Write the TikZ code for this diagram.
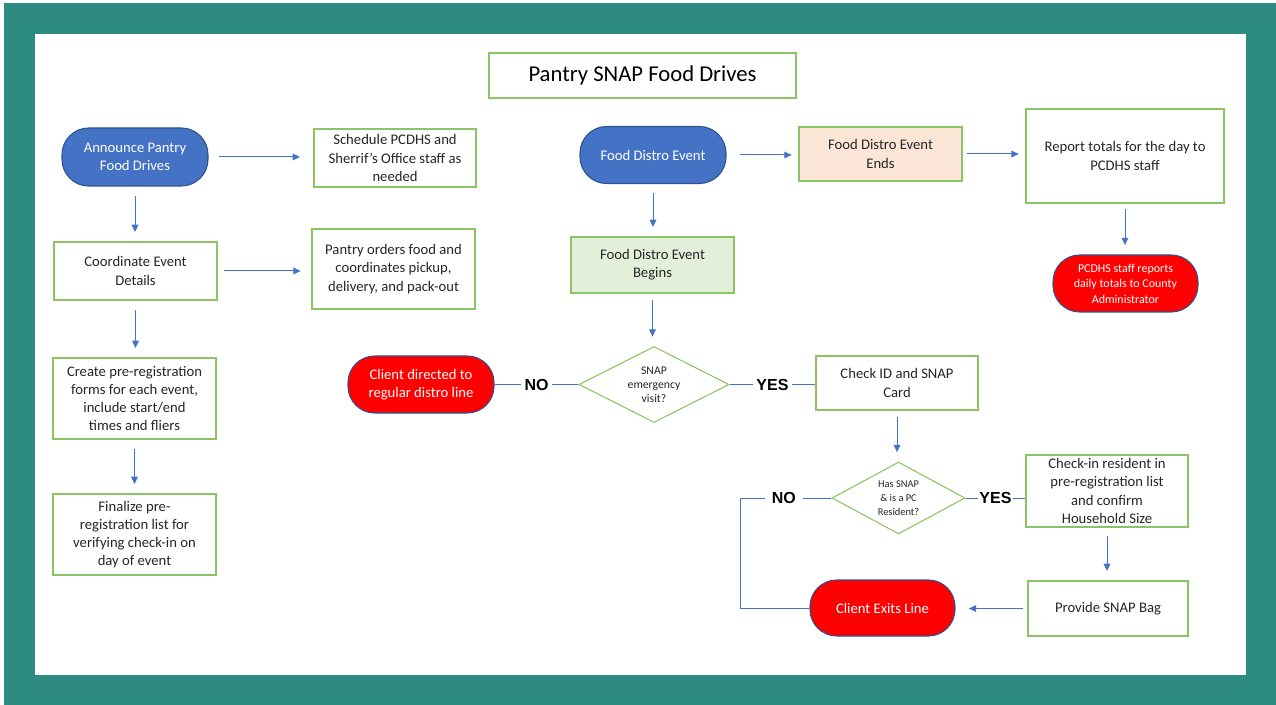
\documentclass[tikz,border=0pt]{standalone}
\usepackage{fontspec}
\setmainfont{Carlito}
\newfontfamily\labfont{Liberation Sans}
\usetikzlibrary{arrows.meta,shapes.geometric}
\definecolor{tealbg}{RGB}{46,139,128}
\definecolor{gbord}{RGB}{140,196,100}
\definecolor{tbord}{RGB}{47,82,143}
\definecolor{blue1}{RGB}{68,114,196}
\definecolor{red1}{RGB}{255,0,0}
\definecolor{arrc}{RGB}{68,114,196}
\definecolor{txt}{RGB}{38,38,38}
\definecolor{peach}{RGB}{251,229,214}
\definecolor{lgreen}{RGB}{226,239,218}
\begin{document}
\begin{tikzpicture}[x=0.75pt,y=-0.75pt,
  sz/.style 2 args={minimum width=#1*0.75pt,minimum height=#2*0.75pt},
  box/.style={draw=gbord,line width=1pt,fill=white,align=center,inner sep=1pt,
    font=\fontsize{11}{13.6}\selectfont,text=txt},
  term/.style={draw=tbord,line width=0.8pt,rounded corners=20pt,align=center,
    text=white,inner sep=1pt,font=\fontsize{11}{13.6}\selectfont},
  blueterm/.style={term,fill=blue1},
  redterm/.style={term,fill=red1},
  dec/.style={diamond,draw=gbord,line width=0.8pt,fill=white,inner sep=0pt},
  dectext/.style={align=center,text=txt,inner sep=0pt,font=\fontsize{8.8}{10.5}\selectfont},
  arr/.style={draw=arrc,line width=0.75pt,-{Triangle[length=5.5pt,width=5pt]},
    shorten <=7pt,shorten >=7pt},
  ln/.style={draw=arrc,line width=0.75pt},
  yn/.style={fill=white,inner sep=2.5pt,text=black,
    font=\labfont\bfseries\fontsize{12}{12}\selectfont}]
\useasboundingbox (0,0) rectangle (1276,705);
\fill[white] (0,0) rectangle (1276,705);
\fill[tealbg] (4,3) rectangle (1276,705);
\fill[white] (35,34) rectangle (1246,675);

% title
\node[box,sz={307}{45},font=\fontsize{17}{20}\selectfont,text=black] (title) at (642.5,75.5) {Pantry SNAP Food Drives};

% left column
\node[blueterm,sz={146}{58}] (ann) at (135,157) {Announce Pantry\\Food Drives};
\node[box,sz={162}{58}] (sched) at (395,158) {Schedule PCDHS and\\Sherrif’s Office staff as\\needed};
\node[box,sz={163}{58}] (coord) at (135.5,271) {Coordinate Event\\Details};
\node[box,sz={163}{80}] (order) at (393.5,269) {Pantry orders food and\\coordinates pickup,\\delivery, and pack-out};
\node[box,sz={163}{81}] (create) at (134.5,398.5) {Create pre-registration\\forms for each event,\\include start/end\\times and fliers};
\node[box,sz={163}{81}] (final) at (134.5,534.5) {Finalize pre-\\registration list for\\verifying check-in on\\day of event};

% middle / right
\node[blueterm,sz={146}{57}] (fde) at (653,155) {Food Distro Event};
\node[box,fill=peach,sz={163}{54}] (ends) at (880.5,154) {Food Distro Event\\Ends};
\node[box,sz={198}{94}] (rep) at (1125,156) {Report totals for the day to\\PCDHS staff};
\node[redterm,sz={145}{57},font=\fontsize{9}{11.6}\selectfont] (pcd) at (1125.5,283.5) {PCDHS staff reports\\daily totals to County\\Administrator};
\node[box,fill=lgreen,sz={163}{56}] (beg) at (652.5,265) {Food Distro Event\\Begins};
\node[dec,sz={150}{76},label={[dectext]center:SNAP\\emergency\\visit?}] (d1) at (654,384.5) {};
\node[redterm,sz={146}{57}] (cdir) at (421,384.5) {Client directed to\\regular distro line};
\node[box,sz={162}{54}] (chk) at (897,383) {Check ID and SNAP\\Card};
\node[dec,sz={133}{72},label={[dectext,font=\fontsize{7.8}{10.3}\selectfont]center:Has SNAP\\\& is a PC\\Resident?}] (d2) at (898.5,498) {};
\node[box,sz={162}{72}] (cin) at (1107,491) {Check-in resident in\\pre-registration list\\and confirm\\Household Size};
\node[box,sz={160}{55}] (prov) at (1108,608.5) {Provide SNAP Bag};
\node[redterm,sz={145}{56}] (exit) at (882.5,608) {Client Exits Line};
\coordinate (nocorner) at (740,498);

% arrows
\draw[arr,shorten <=8pt,shorten >=10pt] (ann.east) -- (ann.east -| sched.west);
\draw[arr] (ann.south) -- (ann.south |- coord.north);
\draw[arr,shorten <=5pt,shorten >=8pt] (coord.east) -- (coord.east -| order.west);
\draw[arr] (coord.south) -- (coord.south |- create.north);
\draw[arr] (create.south) -- (create.south |- final.north);
\draw[arr,shorten <=10pt,shorten >=5pt] (fde.east) -- (fde.east -| ends.west);
\draw[arr,shorten <=3pt,shorten >=5pt] (ends.east) -- (ends.east -| rep.west);
\draw[arr,shorten <=4pt] (rep.south) -- (rep.south |- pcd.north);
\draw[arr] (fde.south) -- (fde.south |- beg.north);
\draw[arr,shorten <=5pt] (beg.south) -- (beg.south |- d1.north);
\draw[arr,shorten <=5pt] (chk.south) -- (chk.south |- d2.north);
\draw[arr,shorten <=6pt] (cin.south) -- (cin.south |- prov.north);
\draw[arr,shorten <=3pt,shorten >=10pt] (prov.west) -- (prov.west -| exit.east);

% decision lines
\draw[ln] (d1.west) -- node[yn]{NO} (cdir.east);
\draw[ln] (d1.east) -- node[yn]{YES} (d1.east -| chk.west);
\draw[ln] (d2.east) -- node[yn,inner sep=1pt]{YES} (d2.east -| cin.west);
\draw[ln] (d2.west) -- node[yn,inner sep=5pt,pos=0.52]{NO} (nocorner) |- (exit.west);
\end{tikzpicture}
\end{document}
